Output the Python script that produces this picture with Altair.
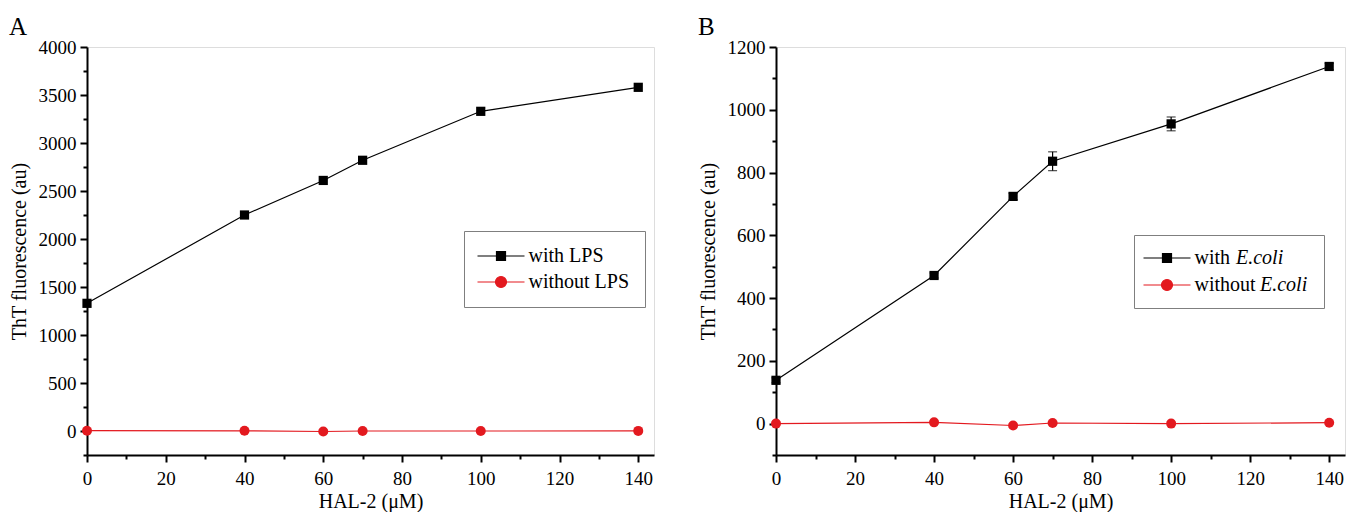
import altair as alt
import pandas as pd

# ---------------- data ----------------
hal_x = [0, 40, 60, 70, 100, 140]

a_names = ["with LPS", "without LPS"]
a_with = [1330, 2250, 2610, 2820, 3330, 3580]
a_without = [3, 2, -5, 0, 0, 1]

b_names = ["with E.coli", "without E.coli"]
b_with = [138, 472, 724, 836, 955, 1138]
b_with_err = [8, 8, 10, 30, 22, 10]
b_without = [0, 4, -6, 2, 0, 3]

x_ticks = list(range(0, 141, 10))
a_yticks = list(range(-250, 4001, 250))
b_yticks = list(range(-100, 1201, 100))

x_title = "HAL-2 (μM)"
y_title = "ThT fluorescence (au)"

FONT = "Liberation Serif"
BLACK = "#000000"
RED = "#e3191f"

# legend symbols: line with marker (unit coords, scaled by sqrt(symbolSize)/2 = 5px)
SQ = "M-4.7,0H4.7M-0.9,-0.9H0.9V0.9H-0.9Z"
CI = "M-4.7,0H4.7M1.1,0A1.1,1.1,0,1,1,-1.1,0A1.1,1.1,0,1,1,1.1,0Z"


def axis_style():
    return dict(grid=False, domainColor="black", domainWidth=2, tickColor="black",
                tickWidth=2, labelFont=FONT, labelFontSize=19, labelColor="black",
                titleFont=FONT, titleFontSize=20, titleFontWeight="normal",
                titleColor="black", labelFlush=False,
                labelOverlap=False, format="d")


def panel(vals_with, vals_without, names, ydom, yticks, ymajor, letter, width,
          leg, err=None, italic_parts=None):
    df = pd.DataFrame({
        "x": hal_x * 2,
        "y": vals_with + vals_without,
        "series": [names[0]] * len(hal_x) + [names[1]] * len(hal_x),
    })
    xscale = alt.Scale(domain=[0, 144], nice=False, zero=False)
    yscale = alt.Scale(domain=ydom, nice=False, zero=False)
    xaxis = alt.Axis(values=x_ticks,
                     labelExpr="datum.value % 20 === 0 ? datum.label : ''",
                     tickSize={"condition": {"test": "datum.value % 20 === 0", "value": 7}, "value": 4},
                     title=x_title, titlePadding=3, labelPadding=7, **axis_style())
    yaxis = alt.Axis(values=yticks,
                     labelExpr=f"datum.value % {ymajor} === 0 ? datum.label : ''",
                     tickSize={"condition": {"test": f"datum.value % {ymajor} === 0", "value": 7}, "value": 4},
                     title=y_title, titlePadding=9, labelPadding=4, **axis_style())
    X = alt.X("x:Q", scale=xscale, axis=xaxis)
    Y = alt.Y("y:Q", scale=yscale, axis=yaxis)

    first = names[0]
    col_expr = f"datum.value === '{first}' ? '{BLACK}' : '{RED}'"
    # an extra move-to widens the legend frame without drawing anything
    extra = leg.get("extra", "")
    sq, ci = SQ + extra, CI + extra
    leg_kwargs = dict(
        title=None, orient="none", legendX=leg["x"], legendY=leg["y"],
        padding=leg["p"], strokeColor="#7f7f7f",
        symbolSize=100, symbolOffset=leg["so"], labelOffset=leg["lo"],
        rowPadding=leg["rp"],
        labelFont=FONT, labelFontSize=20, labelColor="black",
        symbolType=alt.ExprRef(f"datum.value === '{first}' ? '{sq}' : '{ci}'"),
        symbolFillColor=alt.ExprRef(col_expr),
        symbolStrokeColor=alt.ExprRef(col_expr),
        symbolStrokeWidth=1.2, symbolOpacity=1,
    )
    if italic_parts is not None:
        # upright first word in the legend; the species name is set in italic below
        leg_kwargs["labelExpr"] = "split(datum.label, ' ')[0]"
    legend = alt.Legend(**leg_kwargs)
    color = alt.Color("series:N", scale=alt.Scale(domain=names, range=[BLACK, RED]),
                      legend=legend)

    lines = alt.Chart(df).mark_line(strokeWidth=1.2).encode(x=X, y=Y, color=color)
    layers = [lines]
    if err is not None:
        edf = pd.DataFrame({
            "x": hal_x,
            "lo": [v - e for v, e in zip(vals_with, err)],
            "hi": [v + e for v, e in zip(vals_with, err)],
        })
        rule = alt.Chart(edf).mark_rule(color=BLACK, strokeWidth=1.2).encode(
            x=X, y=alt.Y("lo:Q", scale=yscale, axis=yaxis), y2="hi:Q")
        cap_lo = alt.Chart(edf).mark_tick(color=BLACK, thickness=1.2, size=9,
                                          orient="horizontal").encode(
            x=X, y=alt.Y("lo:Q", scale=yscale, axis=yaxis))
        cap_hi = alt.Chart(edf).mark_tick(color=BLACK, thickness=1.2, size=9,
                                          orient="horizontal").encode(
            x=X, y=alt.Y("hi:Q", scale=yscale, axis=yaxis))
        layers += [rule, cap_lo, cap_hi]
    for name, shp, sz in [(names[0], "square", 85), (names[1], "circle", 100)]:
        pts = alt.Chart(df).transform_filter(
            alt.datum.series == name
        ).mark_point(filled=True, opacity=1, size=sz, shape=shp).encode(
            x=X, y=Y, color=color)
        layers.append(pts)
    if italic_parts is not None:
        for (txt, xp, yp) in italic_parts:
            t = alt.Chart(pd.DataFrame({"t": [txt]})).mark_text(
                font=FONT, fontSize=20, fontStyle="italic", align="left",
                baseline="middle", color="black").encode(
                text="t:N", x=alt.value(xp), y=alt.value(yp))
            layers.append(t)

    return alt.layer(*layers).properties(
        width=width, height=408,
        title=alt.TitleParams(letter, anchor="start", frame="bounds", fontSize=25,
                              font=FONT, fontWeight="normal", color="black", offset=-2),
    ).resolve_scale(color="shared")


chart_a = panel(a_with, a_without, a_names, [-250, 4000], a_yticks, 500, "A", 567,
                leg={"x": 377, "y": 184, "p": 15, "rp": 6, "so": 12, "lo": 17.5})

species = [n.split(" ")[1] for n in b_names]
b_italic = [(species[0], 460, 211), (species[1], 484, 238)]
chart_b = panel(b_with, b_without, b_names, [-100, 1200], b_yticks, 200, "B", 569,
                leg={"x": 358, "y": 188, "p": 13, "rp": 7, "so": 10, "lo": 17.5,
                     "extra": "M28.3,0"},
                err=b_with_err, italic_parts=b_italic)

chart = alt.hconcat(chart_a, chart_b, spacing=42).resolve_scale(
    color="independent"
).properties(
    padding={"left": 0, "top": 6, "right": 0, "bottom": 0}
).configure_view(stroke=None).configure(background="white")

chart.save("out.html", embed_options={"renderer": "svg", "actions": False})
